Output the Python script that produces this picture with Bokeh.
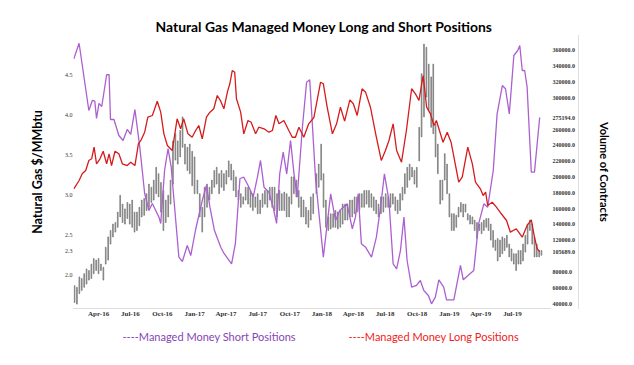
import pandas as pd
from bokeh.plotting import figure
from bokeh.layouts import column
from bokeh.models import (Range1d, LinearAxis, FixedTicker, DatetimeTickFormatter,
                          NumeralTickFormatter, Label)
from bokeh.embed import file_html
from bokeh.resources import INLINE

# ---------------- data ----------------
short_dates = ["2016-01-21","2016-02-05","2016-03-04","2016-03-14","2016-03-21","2016-03-26","2016-04-02","2016-04-10",
"2016-04-24","2016-05-01","2016-05-05","2016-05-15","2016-05-29","2016-06-10","2016-06-22","2016-07-02","2016-07-14",
"2016-07-28","2016-08-11","2016-08-23","2016-09-02","2016-09-21","2016-09-26","2016-10-07","2016-10-17","2016-10-26",
"2016-11-08","2016-11-17","2016-11-27","2016-12-11","2016-12-21","2017-01-04","2017-01-23","2017-02-04","2017-02-14",
"2017-02-27","2017-03-17","2017-03-26","2017-04-17","2017-04-28","2017-05-11","2017-05-22","2017-06-06","2017-06-18",
"2017-06-30","2017-07-09","2017-07-19","2017-08-02","2017-08-14","2017-08-24","2017-09-02","2017-09-12","2017-09-22",
"2017-10-03","2017-10-13","2017-10-22","2017-11-06","2017-11-18","2017-11-27","2017-12-14","2018-01-05","2018-01-26",
"2018-02-09","2018-02-21","2018-03-14","2018-03-29","2018-04-07","2018-04-15","2018-04-24","2018-05-06","2018-05-23",
"2018-06-06","2018-06-18","2018-06-29","2018-07-12","2018-07-24","2018-08-03","2018-08-14","2018-08-24","2018-09-02",
"2018-09-15","2018-09-29","2018-10-10","2018-10-20","2018-11-02","2018-11-11","2018-11-22","2018-12-02","2018-12-16",
"2018-12-24","2019-01-14","2019-02-02","2019-02-10","2019-02-26","2019-03-12","2019-03-26","2019-04-10","2019-04-21",
"2019-05-07","2019-05-18","2019-06-02","2019-06-11","2019-06-22","2019-07-05","2019-07-16","2019-07-22","2019-07-29",
"2019-08-05","2019-08-12","2019-08-24","2019-09-02","2019-09-17"]
short_vals = [349500,369200,284100,296800,295900,274000,293000,289200,
329300,329300,272700,272700,252500,246200,260100,253800,285400,
237700,179100,157600,166500,149200,141200,208200,236000,212400,
145000,98600,93100,113400,100700,133600,170300,189200,161800,
132300,111200,103600,90200,115900,198100,199700,187100,174400,
199700,220900,187100,180800,161800,141200,204000,231400,204000,
246200,204000,174400,263000,319900,322900,195600,98600,178700,
145000,157600,166100,134500,149200,178700,115500,111200,98600,
123900,161800,204000,170300,90200,83900,107000,149200,94400,
60600,62800,69100,56400,50100,39600,48000,70000,60600,
44700,44700,88100,70000,76300,81700,140800,166100,161800,
208200,279900,315700,311600,279900,353700,360000,366300,334700,
334700,313600,206100,206100,275194]

long_dates = ["2016-01-21","2016-02-05","2016-02-14","2016-02-24","2016-03-04","2016-03-12","2016-03-19","2016-03-26",
"2016-04-05","2016-04-14","2016-04-24","2016-05-01","2016-05-08","2016-05-18","2016-05-29","2016-06-08","2016-06-22",
"2016-07-02","2016-07-14","2016-07-24","2016-08-01","2016-08-11","2016-08-20","2016-09-02","2016-09-16","2016-09-26",
"2016-10-05","2016-10-15","2016-10-29","2016-11-12","2016-11-22","2016-12-01","2016-12-13","2016-12-25","2017-01-04",
"2017-01-13","2017-01-23","2017-02-04","2017-02-14","2017-02-25","2017-03-07","2017-03-17","2017-03-26","2017-04-05",
"2017-04-12","2017-04-19","2017-04-26","2017-05-01","2017-05-13","2017-05-22","2017-06-03","2017-06-12","2017-06-25",
"2017-07-04","2017-07-19","2017-08-02","2017-08-12","2017-08-22","2017-08-31","2017-09-14","2017-09-28","2017-10-08",
"2017-10-17","2017-10-27","2017-11-10","2017-11-24","2017-12-09","2017-12-28","2018-01-05","2018-01-16","2018-01-31",
"2018-02-12","2018-02-23","2018-03-07","2018-03-22","2018-04-01","2018-04-12","2018-04-26","2018-05-06","2018-05-20",
"2018-06-04","2018-06-20","2018-07-02","2018-07-12","2018-07-24","2018-08-03","2018-08-17","2018-08-31","2018-09-15",
"2018-09-26","2018-10-06","2018-10-18","2018-10-28","2018-11-08","2018-11-18","2018-11-25","2018-12-14","2018-12-26",
"2019-01-06","2019-01-28","2019-02-07","2019-02-23","2019-03-08","2019-03-17","2019-03-31","2019-04-08","2019-04-15",
"2019-04-21","2019-05-04","2019-05-16","2019-05-30","2019-06-14","2019-06-25","2019-07-12","2019-07-29","2019-08-12",
"2019-08-24","2019-09-02","2019-09-10","2019-09-17"]
long_vals = [185100,195600,204000,208200,220900,223000,237700,216700,
223000,232600,216700,229300,214500,232600,229300,216700,214500,
218700,214500,242000,247000,256700,275600,277800,295900,282000,
254600,239800,233500,273600,261000,273600,254600,250300,258800,
265100,248300,275600,282000,286300,303100,295900,286300,307300,
317900,334700,332500,298900,282000,254600,271500,269300,254600,
263000,261000,256700,258800,277800,267300,271500,258800,250300,
250300,263000,250300,267300,275300,319900,317900,288300,254600,
267300,288300,270600,297600,292600,277800,311600,307300,288300,
254600,220900,233500,246200,267300,233500,218700,258800,311600,
305200,296800,328400,288300,279900,265100,271500,244000,256700,
244000,193400,199700,237700,216700,193400,185100,176600,180800,
164000,168100,161800,153500,145000,130200,134500,123900,138700,
145900,123900,109200,105689]

# natural gas price bars (high / low), read in four consecutive stretches
bar_high_1 = [1.86,1.84,1.97,1.95,2.01,2.07,2.05,2.13,2.20,2.18,
2.20,2.13,2.09,2.34,2.47,2.55,2.63,2.65,2.78,2.99,
2.88,2.82,2.90,2.88,2.93,2.78,2.78,2.84,2.93,2.95,
3.01,3.13,3.09,3.18,3.34,3.26,3.15,3.05,2.93,2.99,
3.18,3.67,3.76,3.67,3.80,3.97,3.63,3.59,3.63,3.54,3.47]
bar_low_1 = [1.65,1.63,1.76,1.80,1.84,1.88,1.93,1.95,2.01,2.05,
2.01,2.05,1.93,2.13,2.18,2.38,2.47,2.53,2.59,2.72,
2.65,2.63,2.70,2.63,2.59,2.53,2.55,2.61,2.72,2.74,
2.80,2.84,2.90,2.93,3.01,2.97,2.78,2.55,2.65,2.72,
2.88,3.13,3.43,3.38,3.47,3.59,3.38,3.30,3.26,3.11,3.01]
bar_high_2 = [3.18,3.01,2.84,3.09,3.13,3.09,3.18,3.30,3.34,3.26,
3.30,3.26,3.30,3.42,3.38,3.30,3.22,3.05,3.01,2.97,
3.09,3.09,3.05,3.01,2.97,3.01,2.93,3.01,3.05,3.05,
3.09,3.09,3.09,3.01,3.05,3.01,3.03,3.01,2.97,3.22,
3.22,3.18,3.05,2.97,2.93,2.84,2.80,2.97,3.01]
bar_low_2 = [3.01,2.72,2.53,2.72,2.84,2.93,3.01,3.09,3.13,3.01,
3.09,3.05,3.13,3.22,3.18,3.05,2.97,2.93,2.84,2.88,
2.93,2.88,2.84,2.80,2.84,2.76,2.76,2.84,2.88,2.84,
2.93,2.84,2.80,2.72,2.80,2.80,2.80,2.72,2.72,2.88,
3.01,2.97,2.84,2.72,2.72,2.63,2.59,2.68,2.76]
bar_high_3 = [3.26,3.38,3.63,3.26,2.93,2.72,2.76,2.76,2.80,2.78,
2.80,2.88,2.88,2.88,2.93,2.93,2.97,2.97,3.01,3.01,
3.05,3.05,3.05,3.01,2.97,2.93,2.88,2.97,2.97,3.01,
2.97,3.01,3.01,2.97,2.93,3.01,3.09,3.26,3.34,3.38,
3.34,3.30,3.34,3.84,4.51,4.88,4.84,4.63,4.47]
bar_low_3 = [3.01,3.09,3.18,2.84,2.59,2.55,2.57,2.59,2.59,2.57,
2.59,2.63,2.68,2.68,2.72,2.72,2.76,2.78,2.80,2.84,
2.84,2.88,2.84,2.84,2.80,2.76,2.72,2.76,2.78,2.84,
2.84,2.84,2.88,2.80,2.76,2.80,2.93,3.01,3.09,3.18,
3.22,3.13,3.09,3.42,3.72,3.97,4.22,4.05,3.84]
bar_high_4 = [4.63,3.88,3.63,3.18,3.18,3.51,3.38,3.01,2.76,2.76,
2.74,2.84,2.90,2.88,2.88,2.76,2.74,2.72,2.68,2.65,
2.63,2.65,2.68,2.70,2.70,2.63,2.55,2.43,2.45,2.43,
2.47,2.45,2.49,2.38,2.32,2.26,2.26,2.30,2.30,2.38,
2.49,2.63,2.68,2.63,2.47,2.38,2.30,2.30]
bar_low_4 = [3.76,3.47,3.26,2.88,2.93,3.18,3.01,2.72,2.55,2.55,
2.59,2.72,2.78,2.72,2.78,2.68,2.63,2.63,2.55,2.45,
2.55,2.51,2.55,2.59,2.55,2.43,2.34,2.30,2.17,2.22,
2.26,2.30,2.34,2.22,2.17,2.13,2.05,2.13,2.13,2.17,
2.28,2.38,2.55,2.38,2.22,2.22,2.22,2.24]
# first and last bar date of each stretch
bar_spans = [("2016-01-23", "2017-01-01"), ("2017-01-09", "2017-12-07"),
             ("2017-12-16", "2018-11-10"), ("2018-11-16", "2019-09-22")]
last_price = 2.3

x_tick_dates = ["2016-04-01","2016-07-01","2016-10-01","2017-01-01","2017-04-01","2017-07-01","2017-10-01",
                "2018-01-01","2018-04-01","2018-07-01","2018-10-01","2019-01-01","2019-04-01","2019-07-01"]
price_ticks = [2.0, 2.5, 3.0, 3.5, 4.0, 4.5]
volume_ticks = [40000, 60000, 80000, 100000, 120000, 140000, 160000, 180000, 200000, 220000,
                240000, 260000, 280000, 300000, 320000, 340000, 360000]

title_text = "Natural Gas Managed Money Long and Short Positions"
short_label = "----Managed Money Short Positions"
long_label = "----Managed Money Long Positions"

# ---------------- styling ----------------
PURPLE = "#ac5fd0"
RED = "#d41c1c"
SERIF = "Liberation Serif"
SANS = "Lato"

s_dates = pd.to_datetime(short_dates)
l_dates = pd.to_datetime(long_dates)
highs = [bar_high_1, bar_high_2, bar_high_3, bar_high_4]
lows = [bar_low_1, bar_low_2, bar_low_3, bar_low_4]
b_dates, b_high, b_low = [], [], []
for (d0, d1), hi, lo in zip(bar_spans, highs, lows):
    b_dates += list(pd.date_range(d0, d1, periods=len(hi)))
    b_high += hi
    b_low += lo

p = figure(width=634, height=322, output_backend="svg", toolbar_location=None,
           x_axis_type="datetime",
           x_range=Range1d(pd.Timestamp("2016-01-20"), pd.Timestamp("2019-10-18")),
           y_range=Range1d(1.575, 4.9875),
           min_border_left=73, min_border_right=84, min_border_top=35, min_border_bottom=14)
p.extra_y_ranges = {"vol": Range1d(33676, 378972)}
p.outline_line_color = None
p.grid.visible = False

p.title.text = title_text
p.title.align = "left"
p.title.offset = 82
p.title.standoff = 1
p.title.text_font = SANS
p.title.text_font_size = "13.9px"
p.title.text_font_style = "bold"
p.title.text_color = "black"

# x axis
xa = p.xaxis[0]
xa.ticker = FixedTicker(ticks=[pd.Timestamp(t).value // 10**6 for t in x_tick_dates])
fmt = "%b-%y"
xa.formatter = DatetimeTickFormatter(days=fmt, months=fmt, years=fmt, hours=fmt, minutes=fmt,
                                     seconds=fmt, milliseconds=fmt, microseconds=fmt, minsec=fmt, hourmin=fmt)
xa.axis_line_color = "#bdbdbd"
xa.axis_line_dash = "1 1"
xa.major_tick_line_color = None
xa.minor_tick_line_color = None
xa.major_tick_out = 0
xa.minor_tick_out = 0
xa.major_label_text_font = SERIF
xa.major_label_text_font_style = "bold"
xa.major_label_text_font_size = "7px"
xa.major_label_text_color = "#333333"
xa.major_label_standoff = 1

# left axis (price) - last price shown as its own tick
ya = p.yaxis[0]
ya.ticker = FixedTicker(ticks=sorted(price_ticks + [last_price]))
ya.formatter = NumeralTickFormatter(format="0.0")
ya.axis_line_color = None
ya.major_tick_line_color = None
ya.minor_tick_line_color = None
ya.major_tick_out = 0
ya.minor_tick_out = 0
ya.major_label_text_font = SERIF
ya.major_label_text_font_size = "6px"
ya.major_label_text_color = "#333333"
ya.major_label_standoff = 1
ya.axis_label = "Natural Gas $/MMbtu"
ya.axis_label_text_font = SANS
ya.axis_label_text_font_style = "bold"
ya.axis_label_text_font_size = "12.5px"
ya.axis_label_text_color = "black"
ya.axis_label_standoff = 17

# right axis (volume) - latest values of both series shown as ticks
last_vals = [short_vals[-1], long_vals[-1]]
vol_ticks = [t for t in volume_ticks if all(abs(t - v) > 6000 for v in last_vals)] + last_vals
ra = LinearAxis(y_range_name="vol", ticker=FixedTicker(ticks=sorted(vol_ticks)),
                formatter=NumeralTickFormatter(format="0.0"))
ra.axis_line_color = None
ra.major_tick_line_color = None
ra.minor_tick_line_color = None
ra.major_tick_out = 0
ra.minor_tick_out = 0
ra.major_label_text_font = SERIF
ra.major_label_text_font_style = "bold"
ra.major_label_text_font_size = "6px"
ra.major_label_text_color = "#333333"
ra.major_label_standoff = 2
p.add_layout(ra, "right")

ra2 = LinearAxis(y_range_name="vol", ticker=FixedTicker(ticks=[]))
ra2.axis_line_color = "#bdbdbd"
ra2.axis_line_dash = "1 1"
ra2.major_tick_line_color = None
ra2.minor_tick_line_color = None
ra2.major_tick_out = 0
ra2.minor_tick_out = 0
ra2.major_label_standoff = 0
ra2.axis_label = "Volume of Contracts"
ra2.axis_label_text_font = SANS
ra2.axis_label_text_font_style = "bold"
ra2.axis_label_text_font_size = "11px"
ra2.axis_label_text_color = "black"
ra2.axis_label_standoff = 19
p.add_layout(ra2, "right")

# ---------------- marks ----------------
p.vbar(x=b_dates, top=b_high, bottom=b_low, width=2.2 * 86400000,
       fill_color="#c4c4c4", line_color="#505050", line_width=0.55)
p.line(s_dates, short_vals, y_range_name="vol", line_color=PURPLE, line_width=1.3)
p.line(l_dates, long_vals, y_range_name="vol", line_color=RED, line_width=1.3)

# ---------------- legend row (pixel-scaled strip under the chart) ----------------
leg = figure(width=634, height=43, output_backend="svg", toolbar_location=None,
             x_range=Range1d(73, 550), y_range=Range1d(0, 43),
             x_axis_location=None, y_axis_location=None,
             min_border_left=73, min_border_right=84, min_border_top=0, min_border_bottom=0)
leg.outline_line_color = None
leg.grid.visible = False
leg.add_layout(Label(x=122, y=29, text=short_label, text_align="left", text_baseline="middle",
                     text_font=SANS, text_font_size="11px", text_color="#8545b5"))
leg.add_layout(Label(x=348, y=29, text=long_label, text_align="left", text_baseline="middle",
                     text_font=SANS, text_font_size="11px", text_color="#f01c1c"))

layout = column(p, leg, spacing=0)
open("out.html", "w").write(file_html(layout, INLINE))
